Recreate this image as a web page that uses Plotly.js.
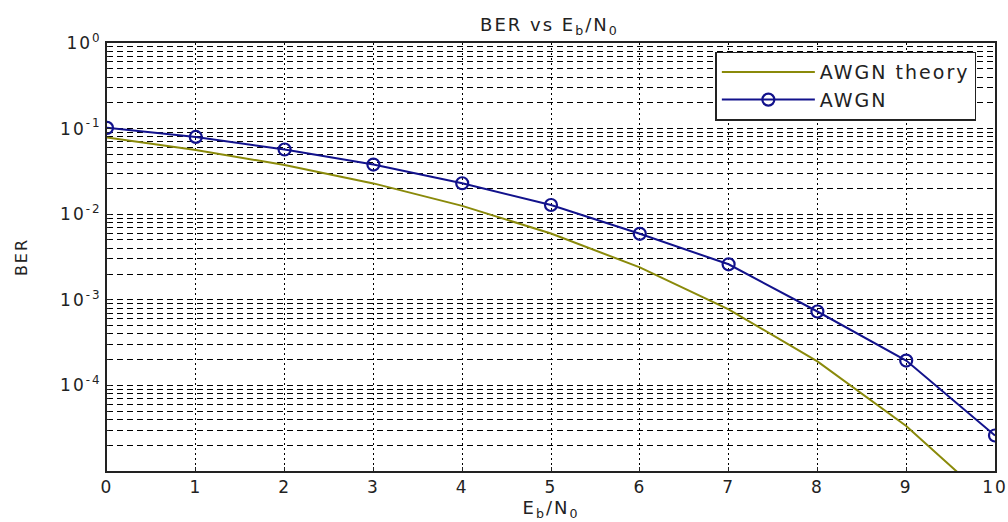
<!DOCTYPE html>
<html><head><meta charset="utf-8">
<script src="https://cdn.plot.ly/plotly-3.0.1.min.js"></script>
<style>html,body{margin:0;padding:0;background:#fff;}#chart{width:1008px;height:522px;}
text{letter-spacing:2px;}</style>
</head><body><div id="chart"></div>
<script>
// Theory curve
const ebnoTheory = [0,1,2,3,4,5,6,7,8,9,10];
const berTheory = [0.0786,0.0563,0.0375,0.0229,0.0125,0.00595,0.00239,0.000773,0.000191,0.0000336,0.0000039];
// Simulated AWGN
const ebnoSim = [0,1,2,3,4,5,6,7,8,9,10];
const berSim = [0.102,0.080,0.057,0.038,0.023,0.0128,0.0059,0.0026,0.00073,0.000195,0.000026];
const yTickVals = [1,0.1,0.01,0.001,0.0001];
const yTickText = ['10<sup>0</sup>','10<sup>-1</sup>','10<sup>-2</sup>','10<sup>-3</sup>','10<sup>-4</sup>'];
const xTickVals = [0,1,2,3,4,5,6,7,8,9,10];

const fam = 'DejaVu Sans, Liberation Sans, sans-serif';
const txt = '#222';
const traces = [
 {x:ebnoTheory, y:berTheory, mode:'lines', name:'AWGN theory', line:{color:'#8a8a0a', width:2}},
 {x:ebnoSim, y:berSim, mode:'lines+markers', name:'AWGN', line:{color:'#12128c', width:2},
  marker:{symbol:'circle-open', size:12, color:'#12128c', line:{width:2.2, color:'#12128c'}}}
];
const layout = {
 width:1008, height:522,
 margin:{l:107, r:13, t:43, b:51},
 paper_bgcolor:'#fff', plot_bgcolor:'#fff',
 font:{family:fam, size:16, color:txt},
 showlegend:true,
 title:{text:'BER vs E<sub>b</sub>/N<sub>0</sub>', x:0.545, xanchor:'center', y:0.965, yanchor:'top', font:{family:fam, size:18, color:txt}},
 xaxis:{range:[0,10], tickvals:xTickVals, ticktext:xTickVals.map(String),
   showgrid:true, gridcolor:'#000', griddash:'2px,3px', gridwidth:1,
   showline:true, linecolor:'#222', linewidth:2, mirror:true,
   ticks:'inside', ticklen:4, tickcolor:'#222', zeroline:false,
   tickfont:{family:fam, size:17, color:txt},
   title:{text:'E<sub>b</sub>/N<sub>0</sub>', standoff:5, font:{family:fam, size:18, color:txt}}},
 yaxis:{type:'log', range:[-5,0], tickvals:yTickVals, ticktext:yTickText,
   showgrid:true, gridcolor:'#000', griddash:'6px,4px', gridwidth:1,
   minor:{dtick:'D1', showgrid:true, gridcolor:'#000', griddash:'6px,4px', gridwidth:1, ticks:'inside', ticklen:2},
   showline:true, linecolor:'#222', linewidth:2, mirror:true,
   ticks:'inside', ticklen:4, tickcolor:'#222', zeroline:false,
   tickfont:{family:fam, size:17, color:txt},
   title:{text:'BER', standoff:28, font:{family:fam, size:16, color:txt}}},
 legend:{x:0.979, xanchor:'right', y:0.98, yanchor:'top', bgcolor:'#fff', bordercolor:'#222', borderwidth:1.5,
   font:{family:fam, size:19, color:txt}, tracegroupgap:0, itemwidth:93}
};
Plotly.newPlot('chart', traces, layout, {displayModeBar:false, staticPlot:true});
</script></body></html>
